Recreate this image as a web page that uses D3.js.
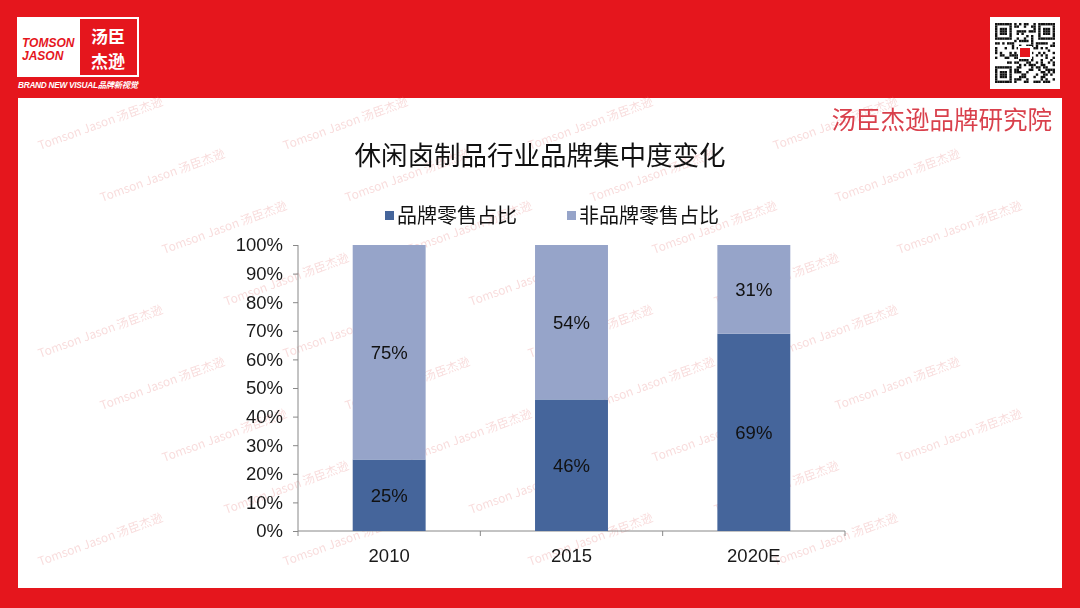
<!DOCTYPE html>
<html><head><meta charset="utf-8">
<script src="https://cdn.jsdelivr.net/npm/d3@7"></script>
<style>html,body{margin:0;padding:0;background:#fff}svg{display:block}</style>
</head><body>
<svg id="c" width="1080" height="608"></svg>
<script>
const categories = ["2010", "2015", "2020E"];
const brandShare = [25, 46, 69];
const nonBrandShare = [75, 54, 31];
const seriesNames = ["品牌零售占比", "非品牌零售占比"];
const yTicks = [0, 10, 20, 30, 40, 50, 60, 70, 80, 90, 100];
const title = "休闲卤制品行业品牌集中度变化";

const svg = d3.select("#c");
const RED = "#E5161D";
const F = "'Liberation Sans', Arial, 'Noto Sans CJK SC', sans-serif";
const FC = "'Noto Sans CJK SC', 'Liberation Sans', sans-serif";

// frame
svg.append("rect").attr("width",1080).attr("height",608).attr("fill",RED);
svg.append("rect").attr("x",18).attr("y",98).attr("width",1044).attr("height",490).attr("fill","#fff");

// watermarks (only fully inside the white panel)
const wm = svg.append("g").attr("font-family",FC).attr("font-size",12).attr("fill","#e98c8c").attr("opacity",0.3);
for (let r = 0; r < 10; r++) {
  for (let c = -1; c < 6; c++) {
    const x = 40 + c*245 + (r%4)*62;
    const y = 150 + r*52;
    if (x < 24 || x + 128 > 1056 || y - 46 < 104 || y + 6 > 584) continue;
    wm.append("text").attr("transform",`translate(${x},${y}) rotate(-20)`).text("Tomson Jason 汤臣杰逊");
  }
}

// logo
const lg = svg.append("g");
lg.append("rect").attr("x",17).attr("y",17).attr("width",122).attr("height",60).attr("fill","#fff");
lg.append("rect").attr("x",80).attr("y",19).attr("width",57).attr("height",56).attr("fill",RED);
lg.append("text").attr("x",22).attr("y",47).attr("font-family",F).attr("font-weight","bold").attr("font-style","italic").attr("font-size",12).attr("fill",RED).text("TOMSON");
lg.append("text").attr("x",22).attr("y",60).attr("font-family",F).attr("font-weight","bold").attr("font-style","italic").attr("font-size",12).attr("fill",RED).text("JASON");
lg.append("text").attr("x",108).attr("y",43).attr("text-anchor","middle").attr("font-family",FC).attr("font-weight","bold").attr("font-size",17).attr("fill","#fff").text("汤臣");
lg.append("text").attr("x",108).attr("y",68).attr("text-anchor","middle").attr("font-family",FC).attr("font-weight","bold").attr("font-size",17).attr("fill","#fff").text("杰逊");
lg.append("text").attr("x",18).attr("y",88).attr("font-family",F).attr("font-weight","bold").attr("font-style","italic").attr("font-size",8.3).attr("fill","#fff").attr("textLength",120).text("BRAND NEW VISUAL品牌新视觉");

// QR-like decoration
const qr = svg.append("g").attr("transform","translate(990,17)");
qr.append("rect").attr("width",70).attr("height",72).attr("fill","#fff");
const N = 25, m = 2.4, ox = 5, oy = 6;
const seed = "TOMSONJASONBRANDRESEARCHINSTITUTE";
function bit(i,j){ const h = (i*31 + j*17 + seed.charCodeAt((i*7+j*3)%seed.length)*13 + i*j) % 7; return h < 3; }
function finder(i,j){ return (i<8&&j<8)||(i<8&&j>=N-8)||(i>=N-8&&j<8); }
for (let i=0;i<N;i++) for (let j=0;j<N;j++){
  let on;
  if (finder(i,j)) {
    const a = i<8?i:i-(N-7), b = j<8?j:j-(N-7);
    if (a===7||b===7||a<0||b<0) on=false;
    else on = (a===0||a===6||b===0||b===6||(a>=2&&a<=4&&b>=2&&b<=4));
  } else on = bit(i,j);
  if (on) qr.append("rect").attr("x",ox+j*m).attr("y",oy+i*m).attr("width",m).attr("height",m).attr("fill","#111");
}
qr.append("rect").attr("x",28).attr("y",29).attr("width",14).attr("height",13).attr("fill","#fff");
qr.append("rect").attr("x",30).attr("y",31).attr("width",10).attr("height",9).attr("fill",RED);

// top right label
svg.append("text").attr("x",1052).attr("y",129).attr("text-anchor","end").attr("font-family",FC).attr("font-size",24.5).attr("fill","#D9404C").text("汤臣杰逊品牌研究院");

// title
svg.append("text").attr("x",540).attr("y",165).attr("text-anchor","middle").attr("font-family",FC).attr("font-size",26.5).attr("fill","#111").text(title);

// scales
const x = d3.scaleBand().domain(categories).range([298, 845]).paddingInner(0.6).paddingOuter(0.3);
const y = d3.scaleLinear().domain([0,100]).range([531, 245]);
const colors = ["#45659B", "#96A4C9"];

// legend
const leg = svg.append("g").attr("font-family",FC).attr("font-size",20).attr("fill","#111");
const legX = [385, 567];
seriesNames.forEach((n,i)=>{
  leg.append("rect").attr("x",legX[i]).attr("y",211).attr("width",9).attr("height",9).attr("fill",colors[i]);
  leg.append("text").attr("x",legX[i]+12).attr("y",223).text(n);
});

// axes
const yAxis = d3.axisLeft(y).tickValues(yTicks).tickFormat(d=>d+"%").tickSize(5).tickPadding(10);
const gy = svg.append("g").attr("transform","translate(298,0)").call(yAxis);
gy.selectAll("text").attr("font-family",F).attr("font-size",18.5).attr("fill","#1a1a1a");
gy.selectAll("line,path").attr("stroke","#888");
gy.select(".domain").attr("d","M0,245V531");

const xTickScale = d3.scaleLinear().domain([0,3]).range([298,845]);
const gx = svg.append("g");
gx.append("line").attr("x1",298).attr("x2",845).attr("y1",531).attr("y2",531).attr("stroke","#888");
[0,1,2,3].forEach(k=>gx.append("line").attr("x1",xTickScale(k)).attr("x2",xTickScale(k)).attr("y1",531).attr("y2",536).attr("stroke","#888"));
categories.forEach(c=>gx.append("text").attr("x",x(c)+x.bandwidth()/2).attr("y",562).attr("text-anchor","middle").attr("font-family",F).attr("font-size",18.5).attr("fill","#1a1a1a").text(c));

// bars
const stacked = categories.map((c,i)=>({c, a:brandShare[i], b:nonBrandShare[i]}));
const bars = svg.append("g");
stacked.forEach(d=>{
  bars.append("rect").attr("x",x(d.c)).attr("width",x.bandwidth()).attr("y",y(d.a)).attr("height",y(0)-y(d.a)).attr("fill",colors[0]);
  bars.append("rect").attr("x",x(d.c)).attr("width",x.bandwidth()).attr("y",y(d.a+d.b)).attr("height",y(d.a)-y(d.a+d.b)).attr("fill",colors[1]);
  const cx = x(d.c)+x.bandwidth()/2;
  bars.append("text").attr("x",cx).attr("y",y(d.a/2)+7).attr("text-anchor","middle").attr("font-family",F).attr("font-size",18.5).attr("fill","#111").text(d.a+"%");
  bars.append("text").attr("x",cx).attr("y",y(d.a+d.b/2)+7).attr("text-anchor","middle").attr("font-family",F).attr("font-size",18.5).attr("fill","#111").text(d.b+"%");
});
</script>
</body></html>
